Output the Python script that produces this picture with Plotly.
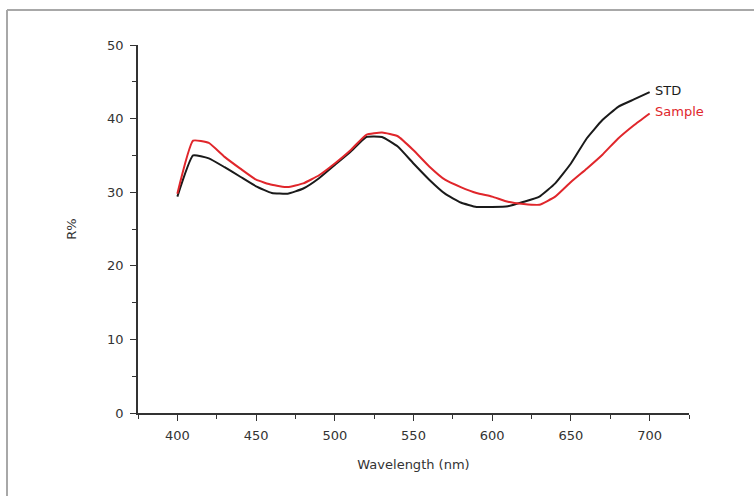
import plotly.graph_objects as go

wavelength = list(range(400, 701, 10))
std = [29.4, 35.0, 34.6, 33.4, 32.1, 30.8, 29.9, 29.8, 30.5, 31.9, 33.7,
       35.5, 37.5, 37.5, 36.2, 33.9, 31.7, 29.8, 28.6, 28.0, 28.0, 28.1,
       28.7, 29.4, 31.2, 33.9, 37.3, 39.8, 41.6, 42.6, 43.6]
sample = [29.8, 37.0, 36.7, 34.8, 33.2, 31.7, 31.0, 30.7, 31.2, 32.3, 33.9,
          35.7, 37.8, 38.1, 37.6, 35.7, 33.5, 31.7, 30.7, 29.9, 29.4, 28.7,
          28.4, 28.3, 29.4, 31.4, 33.2, 35.1, 37.3, 39.1, 40.7]
series_names = ["STD", "Sample"]
x_ticks = [400, 450, 500, 550, 600, 650, 700]
y_ticks = [0, 10, 20, 30, 40, 50]

FONT = "DejaVu Sans"
colors = ["#1a1a1a", "#e0262b"]

fig = go.Figure()
for name, ys, c in zip(series_names, [std, sample], colors):
    fig.add_trace(go.Scatter(x=wavelength, y=ys, mode="lines", name=name,
                             line=dict(color=c, width=2, shape="spline", smoothing=0.4),
                             showlegend=False))
    fig.add_annotation(x=wavelength[-1], y=ys[-1], text=name, showarrow=False,
                       xanchor="left", yanchor="middle", xshift=3, yshift=2,
                       font=dict(family=FONT, size=13, color=c))

axis_common = dict(showgrid=False, zeroline=False, showline=True,
                   linecolor="#333", linewidth=1.5, ticks="outside",
                   ticklen=6, tickwidth=1.3, tickcolor="#333",
                   ticklabelstandoff=4,
                   tickfont=dict(family=FONT, size=13, color="#333"))

fig.update_xaxes(range=[375, 725], tickvals=x_ticks,
                 minor=dict(ticks="outside", ticklen=4, dtick=25, tick0=375,
                            tickcolor="#333", tickwidth=1.2),
                 title=dict(text="Wavelength (nm)", font=dict(family=FONT, size=13, color="#333"),
                            standoff=18),
                 **axis_common)
fig.update_yaxes(range=[0, 50], tickvals=y_ticks,
                 minor=dict(ticks="outside", ticklen=4, dtick=5, tick0=0,
                            tickcolor="#333", tickwidth=1.2),
                 title=dict(text="R%", font=dict(family=FONT, size=13, color="#333"),
                            standoff=28),
                 **axis_common)

W, H = 754, 496
L, R, T, B = 138, 65, 45, 83
pw, ph = W - L - R, H - T - B
bx = (7 - L) / pw
by = (H - B - 10) / ph
border = dict(color="#a8a8a8", width=2)
fig.add_shape(type="line", xref="paper", yref="paper",
              x0=bx, x1=(W - L + 5) / pw, y0=by, y1=by, line=border, layer="below")
fig.add_shape(type="line", xref="paper", yref="paper",
              x0=bx, x1=bx, y0=by, y1=-(B + 5) / ph, line=border, layer="below")

fig.update_layout(width=W, height=H,
                  margin=dict(l=L, r=R, t=T, b=B),
                  paper_bgcolor="white", plot_bgcolor="white",
                  font=dict(family=FONT))

fig.write_html("out.html", config={"displayModeBar": False},
               post_script="document.body.style.margin='0';document.body.style.overflow='hidden';")
